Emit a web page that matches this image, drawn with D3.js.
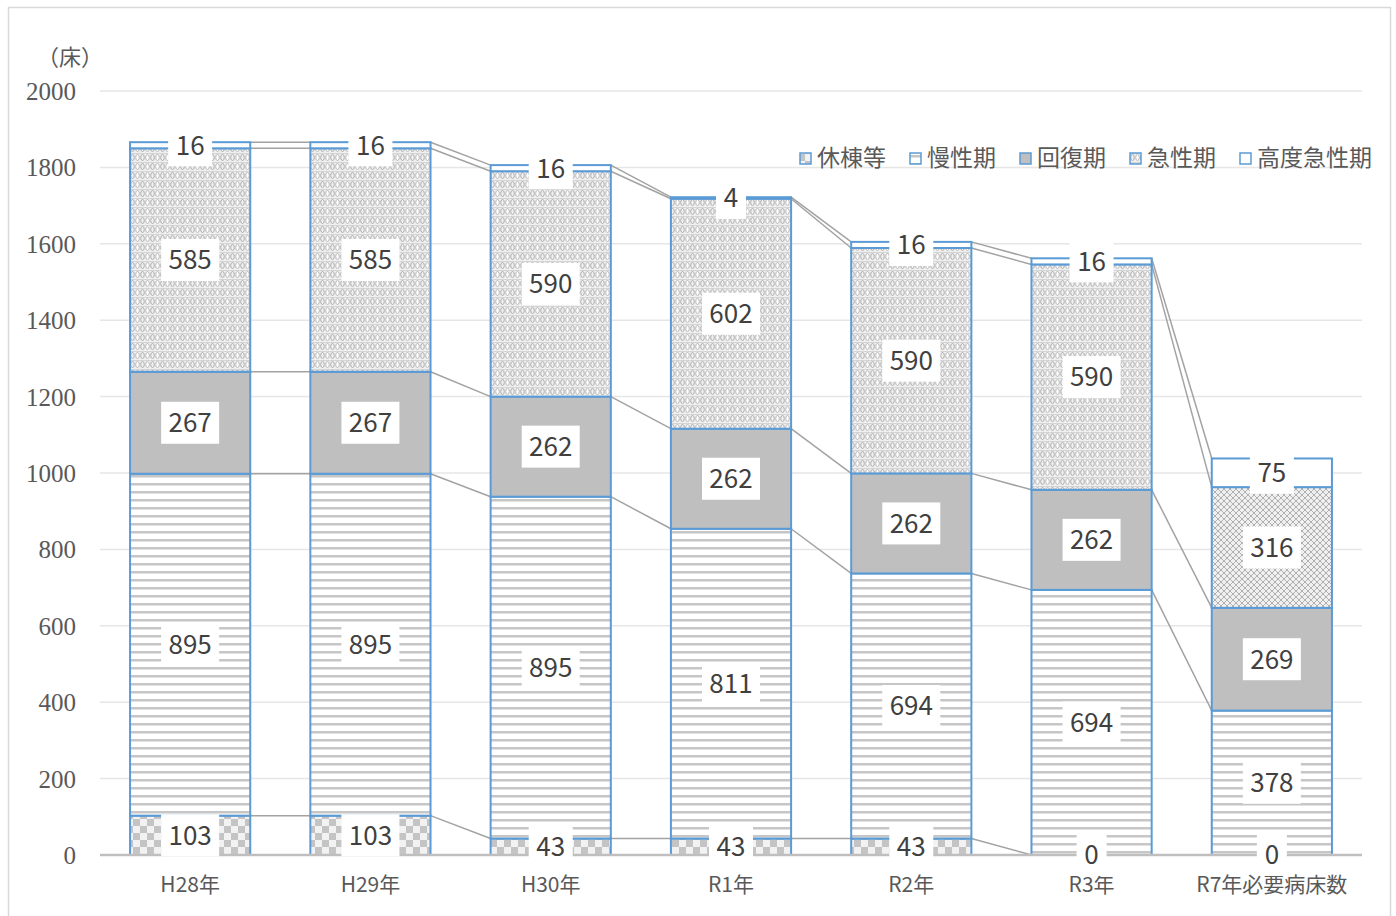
<!DOCTYPE html>
<html>
<head>
<meta charset="utf-8">
<script src="https://cdn.jsdelivr.net/npm/d3@7"></script>
<style>
  html, body { margin: 0; padding: 0; background: #ffffff; }
  svg { display: block; }
</style>
</head>
<body>
<div id="chart"></div>
<script>
// Hospital beds by function, stacked per year (bottom to top)
const categories = ["H28年", "H29年", "H30年", "R1年", "R2年", "R3年", "R7年必要病床数"];
const seriesNames = ["休棟等", "慢性期", "回復期", "急性期", "高度急性期"];
const kyutou      = [103, 103, 43, 43, 43, 0, 0];
const manseiki    = [895, 895, 895, 811, 694, 694, 378];
const kaifukuki   = [267, 267, 262, 262, 262, 262, 269];
const kyuseiki    = [585, 585, 590, 602, 590, 590, 316];
const koudo       = [16, 16, 16, 4, 16, 16, 75];
const yTicks = [0, 200, 400, 600, 800, 1000, 1200, 1400, 1600, 1800, 2000];
const yUnit = "（床）";

const seriesValues = [kyutou, manseiki, kaifukuki, kyuseiki, koudo];

const W = 1396, H = 916;
const svg = d3.select("#chart").append("svg").attr("width", W).attr("height", H);
const defs = svg.append("defs");

// ---- fill patterns ----
// checkerboard
const pCheck = defs.append("pattern").attr("id", "pCheck").attr("patternUnits", "userSpaceOnUse")
  .attr("width", 14).attr("height", 14);
pCheck.append("rect").attr("width", 14).attr("height", 14).attr("fill", "#f2f2f2");
pCheck.append("rect").attr("width", 7).attr("height", 7).attr("fill", "#c4c4c4");
pCheck.append("rect").attr("x", 7).attr("y", 7).attr("width", 7).attr("height", 7).attr("fill", "#c4c4c4");

// horizontal stripes
const pStripe = defs.append("pattern").attr("id", "pStripe").attr("patternUnits", "userSpaceOnUse")
  .attr("width", 8).attr("height", 8);
pStripe.append("rect").attr("width", 8).attr("height", 8).attr("fill", "#ffffff");
pStripe.append("rect").attr("y", 3).attr("width", 8).attr("height", 2.5).attr("fill", "#c6c6c6");

// lace / oval pattern
const pLace = defs.append("pattern").attr("id", "pLace").attr("patternUnits", "userSpaceOnUse")
  .attr("width", 10).attr("height", 9);
pLace.append("rect").attr("width", 10).attr("height", 9).attr("fill", "#f0f0f0");
pLace.append("ellipse").attr("cx", 2.5).attr("cy", 4.5).attr("rx", 1.8).attr("ry", 3)
  .attr("fill", "none").attr("stroke", "#acacac").attr("stroke-width", 1);
pLace.append("ellipse").attr("cx", 7.5).attr("cy", 4.5).attr("rx", 1.8).attr("ry", 3)
  .attr("fill", "#ffffff").attr("stroke", "#b8b8b8").attr("stroke-width", 1);
pLace.append("rect").attr("x", 0).attr("y", 0).attr("width", 10).attr("height", 1).attr("fill", "#d4d4d4");

// diamond mesh for the target-year bar
const pMesh = defs.append("pattern").attr("id", "pMesh").attr("patternUnits", "userSpaceOnUse")
  .attr("width", 6).attr("height", 6);
pMesh.append("rect").attr("width", 6).attr("height", 6).attr("fill", "#f0f0f0");
pMesh.append("path").attr("d", "M0,3 L3,0 L6,3 L3,6 Z").attr("fill", "none")
  .attr("stroke", "#b0b0b0").attr("stroke-width", 1);

const fills = ["url(#pCheck)", "url(#pStripe)", "#bfbfbf", "url(#pLace)", "#ffffff"];
const blue = "#5b9bd5";

// ---- outer frame ----
svg.append("rect").attr("x", 8.5).attr("y", 7.5).attr("width", 1382).attr("height", 930)
  .attr("fill", "none").attr("stroke", "#d9d9d9").attr("stroke-width", 1.5);

// ---- scales ----
const x = d3.scaleBand().domain(categories).range([100, 1362]).paddingInner(1 / 3).paddingOuter(1 / 6);
const y = d3.scaleLinear().domain([0, 2000]).range([855, 91]);

// gridlines
svg.append("g").selectAll("line").data(yTicks.filter(t => t > 0)).join("line")
  .attr("x1", 100).attr("x2", 1362)
  .attr("y1", d => y(d)).attr("y2", d => y(d))
  .attr("stroke", "#e6e6e6").attr("stroke-width", 1.5);

// y-axis labels
const yAxis = d3.axisLeft(y).tickValues(yTicks).tickFormat(d3.format("d")).tickSize(0).tickPadding(0);
const gy = svg.append("g").attr("transform", "translate(76,0)").call(yAxis);
gy.select(".domain").remove();
gy.selectAll("text")
  .attr("font-family", "'Liberation Serif', 'DejaVu Serif', serif")
  .attr("font-size", 25).attr("fill", "#595959").attr("dy", "0.34em");

svg.append("text").attr("x", 70).attr("y", 65).attr("text-anchor", "middle")
  .attr("font-family", "'Noto Sans CJK JP', sans-serif").attr("font-size", 22)
  .attr("fill", "#595959").text(yUnit);

// ---- stack ----
const rows = categories.map((c, i) => {
  const r = { cat: c };
  seriesNames.forEach((s, k) => { r[s] = seriesValues[k][i]; });
  return r;
});
const stacked = d3.stack().keys(seriesNames)(rows);

// series lines joining the segment tops of neighbouring bars
const lineG = svg.append("g");
stacked.forEach(layer => {
  for (let i = 0; i < categories.length - 1; i++) {
    lineG.append("line")
      .attr("x1", x(categories[i]) + x.bandwidth()).attr("y1", y(layer[i][1]))
      .attr("x2", x(categories[i + 1])).attr("y2", y(layer[i + 1][1]))
      .attr("stroke", "#a3a3a3").attr("stroke-width", 1.5);
  }
});

// bars
const barG = svg.append("g");
stacked.forEach((layer, k) => {
  barG.selectAll(null).data(layer).join("rect")
    .attr("x", (d, i) => x(categories[i]))
    .attr("width", x.bandwidth())
    .attr("y", d => y(d[1]))
    .attr("height", d => Math.max(0, y(d[0]) - y(d[1])))
    .attr("fill", (d, i) => (k === 3 && i === categories.length - 1) ? "url(#pMesh)" : fills[k])
    .attr("stroke", blue).attr("stroke-width", 2);
});

// x-axis baseline
svg.append("line").attr("x1", 100).attr("x2", 1362).attr("y1", y(0)).attr("y2", y(0))
  .attr("stroke", "#bfbfbf").attr("stroke-width", 2.5);

// x-axis labels
const xAxis = d3.axisBottom(x).tickSize(0).tickPadding(0);
const gx = svg.append("g").attr("transform", `translate(0,${y(0)})`).call(xAxis);
gx.select(".domain").remove();
gx.selectAll("text")
  .attr("font-family", "'Noto Sans CJK JP', sans-serif")
  .attr("font-size", 21).attr("fill", "#595959").attr("y", 22).attr("dy", "0.71em");

// data labels
const labelG = svg.append("g");
stacked.forEach(layer => {
  layer.forEach((d, i) => {
    const v = d[1] - d[0];
    const cx = x(categories[i]) + x.bandwidth() / 2;
    const cy = y((d[0] + d[1]) / 2);
    const txt = String(v);
    const w = txt.length * 14 + 16;
    labelG.append("rect").attr("x", cx - w / 2).attr("y", cy - 21)
      .attr("width", w).attr("height", 42).attr("fill", "#ffffff");
    labelG.append("text").attr("x", cx).attr("y", cy).attr("dy", "0.36em")
      .attr("text-anchor", "middle")
      .attr("font-family", "'Noto Sans CJK JP', sans-serif").attr("font-size", 26)
      .attr("fill", "#404040").text(txt);
  });
});

// legend
const legendX = [800, 910, 1020, 1130, 1240];
const legend = svg.append("g");
seriesNames.forEach((s, k) => {
  legend.append("rect").attr("x", legendX[k]).attr("y", 153).attr("width", 11).attr("height", 11)
    .attr("fill", fills[k]).attr("stroke", blue).attr("stroke-width", 1.5);
  legend.append("text").attr("x", legendX[k] + 17).attr("y", 158).attr("dy", "0.36em")
    .attr("font-family", "'Noto Sans CJK JP', sans-serif").attr("font-size", 23)
    .attr("fill", "#595959").text(s);
});
</script>
</body>
</html>
